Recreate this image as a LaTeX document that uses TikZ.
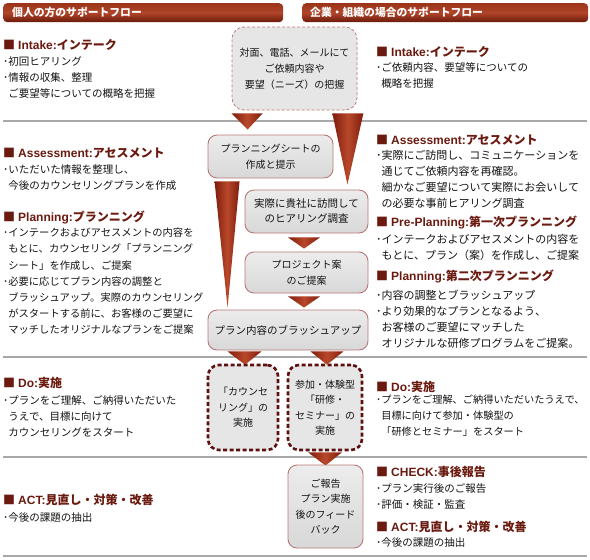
\documentclass[tikz,border=0pt]{standalone}
\usepackage{fontspec}
\setmainfont{Noto Sans CJK JP}
\newfontfamily\latf{Liberation Sans}
\usetikzlibrary{calc}
\pgfdeclarelayer{bg}
\pgfdeclarelayer{mid}
\pgfsetlayers{bg,mid,main}
\definecolor{ttl}{HTML}{6B1A10}
\definecolor{bodyc}{HTML}{141414}
\definecolor{boxb}{HTML}{B87878}
\definecolor{dashc}{HTML}{C07A7A}
\definecolor{bdash}{HTML}{5C1010}
\definecolor{sepc}{HTML}{A8A8A8}
\definecolor{wd}{HTML}{7E1C0C}
\definecolor{wl}{HTML}{B8482A}
\definecolor{boxt}{HTML}{ECECEC}
\definecolor{boxbt}{HTML}{D8D8D8}
\definecolor{hdt}{HTML}{9A3418}
\definecolor{hdm}{HTML}{B0452A}
\definecolor{hdb}{HTML}{6A1A0A}
\newcommand\ttlx[2]{■\hspace{3pt}{\latf #1}#2}
\newcommand\ind{\hspace*{0.5em}}
\tikzset{
  ttlnode/.style={anchor=west, inner sep=0, text=ttl, font=\fontsize{12}{14}\selectfont\bfseries},
  bodyA/.style={anchor=north west, inner sep=0, align=left, text=bodyc, font=\fontsize{10.5}{16}\selectfont},
  bodyB/.style={anchor=north west, inner sep=0, align=left, text=bodyc, font=\fontsize{11}{16}\selectfont},
  bodyC/.style={anchor=north west, inner sep=0, align=left, text=bodyc, font=\fontsize{10.2}{16}\selectfont},
  hdr/.style={anchor=north west, inner sep=0, rounded corners=4pt, top color=hdt, bottom color=hdb, middle color=hdm, minimum height=19pt},
  hdrtext/.style={anchor=west, inner sep=0, text=white, font=\fontsize{10.8}{12}\selectfont\bfseries},
  fbox/.style={draw=boxb, line width=0.9pt, rounded corners=9pt, top color=boxt, bottom color=boxbt, align=center, font=\fontsize{10}{15.5}\selectfont, inner sep=0, text=bodyc},
  ibox/.style={draw=dashc, line width=0.8pt, dash pattern=on 3pt off 2pt, rounded corners=12pt, fill=boxt!70!boxbt, align=center, font=\fontsize{10}{16}\selectfont, inner sep=0, text=bodyc},
  bbox/.style={draw=bdash, line width=2.6pt, dash pattern=on 4pt off 2.5pt, rounded corners=11pt, fill=boxt!70!boxbt, align=center, font=\fontsize{10}{15.5}\selectfont, inner sep=0, text=bodyc},
  wedge/.style={left color=wd, right color=wd, middle color=wl},
  sep/.style={draw=sepc, line width=1.4pt}
}
\begin{document}
\begin{tikzpicture}[x=1pt, y=-1pt]
\useasboundingbox (0,0) rectangle (590,560);
\begin{pgfonlayer}{bg}
\fill[white] (0,0) rectangle (590,560);
\end{pgfonlayer}

% headers
\node[hdr, minimum width=280pt] (hL) at (3,3) {};
\node[hdrtext] (hLt) at ($(hL.west)+(9,0)$) {個人の方のサポートフロー};
\node[hdr, minimum width=286pt] (hR) at (302,3) {};
\node[hdrtext] (hRt) at ($(hR.west)+(8,0)$) {企業・組織の場合のサポートフロー};

% separators
\begin{pgfonlayer}{bg}
\draw[sep] (3,121) -- (587,121);
\draw[sep] (3,357) -- (587,357);
\draw[sep] (3,457) -- (587,457);
\draw[sep] (3,556) -- (587,556);
\end{pgfonlayer}

% flow boxes
\node[ibox, minimum width=125pt, minimum height=83pt] (intake) at (294.5,68.5) {対面、電話、メールにて\\ご依頼内容や\\要望（ニーズ）の把握};
\node[fbox, minimum width=125pt, minimum height=43pt] (sheet) at (270.5,156.5) {プランニングシートの\\作成と提示};
\node[fbox, minimum width=123pt, minimum height=43pt, font=\fontsize{10.5}{15}\selectfont] (hear) at (306.5,211.5) {実際に貴社に訪問して\\のヒアリング調査};
\node[fbox, minimum width=123pt, minimum height=41pt] (proj) at (306.5,272.5) {プロジェクト案\\のご提案};
\node[fbox, minimum width=160pt, minimum height=40pt, font=\fontsize{10.5}{15}\selectfont] (brush) at (288,330) {プラン内容のブラッシュアップ};
\node[bbox, minimum width=70pt, minimum height=85pt] (couns) at (243,407.5) {「カウンセ\\リング」の\\実施};
\node[bbox, minimum width=74pt, minimum height=85pt] (semi) at (325,407.5) {参加・体験型\\「研修・\\セミナー」の\\実施};
\node[fbox, minimum width=75pt, minimum height=83pt] (report) at (325.5,506.5) {ご報告\\プラン実施\\後のフィード\\バック};

% wedges / arrows
\begin{pgfonlayer}{mid}
\shade[wedge] ($(intake.south west)+(0,3)$) -- ($(intake.south west)+(31,3)$) -- ($(sheet.north west)+(40,-5)$) -- cycle;
\shade[wedge] ($(intake.south east)+(-25,3)$) -- ($(intake.south east)+(6,3)$) -- ($(hear.north east)+(-21,-5)$) -- cycle;
\shade[wedge] ($(sheet.south west)+(7,3)$) -- ($(sheet.south west)+(32,3)$) -- ($(brush.north west)+(20,-2)$) -- cycle;
\shade[wedge] ($(hear.south)+(-18.5,4)$) -- ($(hear.south)+(13.5,4)$) -- ($(proj.north)+(-2.5,-3)$) -- cycle;
\shade[wedge] ($(proj.south)+(-18.5,3)$) -- ($(proj.south)+(13.5,3)$) -- ($(brush.north)+(16,-2)$) -- cycle;
\shade[wedge] ($(brush.south west)+(20,1)$) -- ($(brush.south west)+(54,1)$) -- ($(couns.north)+(2,1)$) -- cycle;
\shade[wedge] ($(brush.south east)+(-58,1)$) -- ($(brush.south east)+(-25,1)$) -- ($(semi.north)+(2,1)$) -- cycle;
\shade[wedge] ($(semi.south)+(-17,1)$) -- ($(semi.south)+(17,1)$) -- ($(report.north)+(0,1)$) -- cycle;
\end{pgfonlayer}

% left column
\node[ttlnode] (l1t) at (3,45) {\ttlx{Intake:}{インテーク}};
\node[bodyA] (l1b) at (3,56) {･初回ヒアリング\\･情報の収集、整理\\\ind ご要望等についての概略を把握};
\node[ttlnode] (l2t) at (3,153) {\ttlx{Assessment:}{アセスメント}};
\node[bodyA] (l2b) at (3,164) {･いただいた情報を整理し、\\\ind 今後のカウンセリングプランを作成};
\node[ttlnode] (l3t) at (3,217) {\ttlx{Planning:}{プランニング}};
\node[bodyA, font=\fontsize{10.3}{16.1}\selectfont] (l3b) at (3,228) {･インテークおよびアセスメントの内容を\\\ind もとに、カウンセリング「プランニング\\\ind シート」を作成し、ご提案\\･必要に応じてプラン内容の調整と\\\ind ブラッシュアップ。実際のカウンセリング\\\ind がスタートする前に、お客様のご要望に\\\ind マッチしたオリジナルなプランをご提案};
\node[ttlnode] (l4t) at (3,383) {\ttlx{Do:}{実施}};
\node[bodyA] (l4b) at (3,395) {･プランをご理解、ご納得いただいた\\\ind うえで、目標に向けて\\\ind カウンセリングをスタート};
\node[ttlnode] (l5t) at (3,500) {\ttlx{ACT:}{見直し・対策・改善}};
\node[bodyA] (l5b) at (3,512) {･今後の課題の抽出};

% right column
\node[ttlnode] (r1t) at (376,52) {\ttlx{Intake:}{インテーク}};
\node[bodyA] (r1b) at (376,62) {･ご依頼内容、要望等についての\\\ind 概略を把握};
\node[ttlnode] (r2t) at (376,140) {\ttlx{Assessment:}{アセスメント}};
\node[bodyB] (r2b) at (376,150) {･実際にご訪問し、コミュニケーションを\\\ind 通じてご依頼内容を再確認。\\\ind 細かなご要望について実際にお会いして\\\ind の必要な事前ヒアリング調査};
\node[ttlnode] (r3t) at (376,223) {\ttlx{Pre-Planning:}{第一次プランニング}};
\node[bodyB] (r3b) at (376,234) {･インテークおよびアセスメントの内容を\\\ind もとに、プラン（案）を作成し、ご提案};
\node[ttlnode] (r4t) at (376,276) {\ttlx{Planning:}{第二次プランニング}};
\node[bodyB] (r4b) at (376,290) {･内容の調整とブラッシュアップ\\･より効果的なプランとなるよう、\\\ind お客様のご要望にマッチした\\\ind オリジナルな研修プログラムをご提案。};
\node[ttlnode] (r5t) at (376,387) {\ttlx{Do:}{実施}};
\node[bodyC] (r5b) at (376,395) {･プランをご理解、ご納得いただいたうえで、\\\ind 目標に向けて参加・体験型の\\\ind 「研修とセミナー」をスタート};
\node[ttlnode] (r6t) at (376,472) {\ttlx{CHECK:}{事後報告}};
\node[bodyA] (r6b) at (376,483) {･プラン実行後のご報告\\･評価・検証・監査};
\node[ttlnode] (r7t) at (376,527) {\ttlx{ACT:}{見直し・対策・改善}};
\node[bodyA] (r7b) at (376,537) {･今後の課題の抽出};
\end{tikzpicture}
\end{document}
